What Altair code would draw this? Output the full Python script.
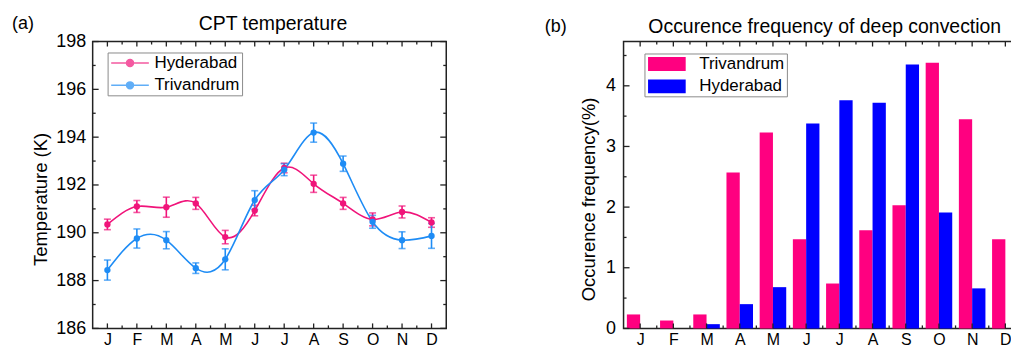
import altair as alt
import pandas as pd

# ---------------- data ----------------
months = ["J", "F", "M", "A", "M", "J", "J", "A", "S", "O", "N", "D"]
month_idx = list(range(1, 13))

hyd_cpt = [190.35, 191.10, 191.07, 191.23, 189.82, 190.93, 192.71, 192.05, 191.23, 190.56, 190.87, 190.43]
hyd_err = [0.22, 0.25, 0.42, 0.25, 0.28, 0.22, 0.20, 0.36, 0.25, 0.27, 0.25, 0.20]
tvm_cpt = [188.44, 189.76, 189.69, 188.52, 188.89, 191.37, 192.64, 194.19, 192.89, 190.46, 189.69, 189.87]
tvm_err = [0.42, 0.40, 0.36, 0.22, 0.44, 0.39, 0.25, 0.40, 0.32, 0.27, 0.35, 0.52]

tvm_freq = [0.23, 0.13, 0.23, 2.57, 3.23, 1.47, 0.74, 1.62, 2.03, 4.38, 3.45, 1.47]
hyd_freq = [0.00, 0.00, 0.07, 0.40, 0.68, 3.38, 3.76, 3.72, 4.35, 1.91, 0.66, 0.00]

temp_major = [186, 188, 190, 192, 194, 196, 198]
temp_minor = [187, 189, 191, 193, 195, 197]
freq_major = [0, 1, 2, 3, 4]
freq_minor = [0.5, 1.5, 2.5, 3.5, 4.5]
month_minor = [1.5, 2.5, 3.5, 4.5, 5.5, 6.5, 7.5, 8.5, 9.5, 10.5, 11.5, 12.5]

series_a = ["Hyderabad", "Trivandrum"]
colors_a = ["#F0147A", "#1E8CF5"]
series_b = ["Trivandrum", "Hyderabad"]
colors_b = ["#FF0080", "#0000FF"]

FONT = "Liberation Sans"
WA, HA = 355, 288
WB, HB = 397, 288

month_expr = "[" + ",".join("'%s'" % m for m in months) + "][round(datum.value)-1]"

# ---------------- helpers ----------------
def tick_rules(values, field, orient, length, xscale, yscale, xaxis, yaxis, W, H):
    df = pd.DataFrame({field: values})
    base = alt.Chart(df).mark_rule(color="#222", strokeWidth=1.3)
    if orient in ("left", "right"):
        x0 = 0 if orient == "left" else W - length
        return base.encode(
            y=alt.Y(f"{field}:Q", scale=yscale, axis=yaxis),
            x=alt.value(x0), x2=alt.value(x0 + length))
    y0 = 0 if orient == "top" else H - length
    return base.encode(
        x=alt.X(f"{field}:Q", scale=xscale, axis=xaxis),
        y=alt.value(y0), y2=alt.value(y0 + length))


def text_layer(txt, x, y, size, align="left"):
    return alt.Chart(pd.DataFrame({"t": [txt]})).mark_text(
        align=align, baseline="alphabetic", fontSize=size, font=FONT, color="black"
    ).encode(text="t:N", x=alt.value(x), y=alt.value(y))

# ---------------- panel (a) ----------------
rows = []
for i, m in enumerate(month_idx):
    rows.append({"m": m, "series": "Hyderabad", "v": hyd_cpt[i], "e": hyd_err[i]})
for i, m in enumerate(month_idx):
    rows.append({"m": m, "series": "Trivandrum", "v": tvm_cpt[i], "e": tvm_err[i]})
df_a = pd.DataFrame(rows)

xs_a = alt.Scale(domain=[0.5, 12.5], nice=False, zero=False)
ys_a = alt.Scale(domain=[186, 198], nice=False, zero=False)

x_axis_a = alt.Axis(values=month_idx, labelExpr=month_expr, ticks=False, domain=False,
                    grid=False, title="", labelFontSize=16, labelPadding=3,
                    labelColor="black", labelFont=FONT)
y_axis_a = alt.Axis(values=temp_major, ticks=False, domain=False, grid=False,
                    title="Temperature (K)", titleFontSize=18.5, titleFontWeight="normal",
                    titleFont=FONT, titleColor="black", titlePadding=5, titleY=158,
                    labelFontSize=18, labelPadding=7, labelColor="black", labelFont=FONT)

leg_a = alt.Legend(orient="none", legendX=15, legendY=11, title=None, direction="vertical",
                   symbolType="M-2.7,0H2.7M-0.5,0A0.5,0.5,0,1,0,0.5,0A0.5,0.5,0,1,0,-0.5,0Z",
                   symbolSize=196, symbolStrokeWidth=1.5, symbolOffset=12, labelOffset=16,
                   labelFontSize=17, labelFont=FONT, labelColor="black",
                   strokeColor="#8a8a8a", fillColor="white", padding=2, rowPadding=4.5)

col_a = alt.Color("series:N", scale=alt.Scale(domain=series_a, range=colors_a), legend=leg_a)

errs = alt.Chart(df_a).mark_errorbar(ticks=True, thickness=1.6, size=7).encode(
    x=alt.X("m:Q", scale=xs_a, axis=x_axis_a),
    y=alt.Y("v:Q", scale=ys_a, axis=y_axis_a),
    yError=alt.YError("e:Q"),
    color=col_a,
)
line = alt.Chart(df_a).mark_line(interpolate="natural", strokeWidth=1.6).encode(
    x=alt.X("m:Q", scale=xs_a, axis=x_axis_a),
    y=alt.Y("v:Q", scale=ys_a, axis=y_axis_a),
    color=col_a,
)
pts = alt.Chart(df_a).mark_point(filled=True, size=40, opacity=1).encode(
    x=alt.X("m:Q", scale=xs_a, axis=x_axis_a),
    y=alt.Y("v:Q", scale=ys_a, axis=y_axis_a),
    color=col_a,
)

ticks_a = [
    tick_rules(temp_major, "v", "left", 6, xs_a, ys_a, x_axis_a, y_axis_a, WA, HA),
    tick_rules(temp_minor, "v", "left", 3, xs_a, ys_a, x_axis_a, y_axis_a, WA, HA),
    tick_rules(temp_major, "v", "right", 6, xs_a, ys_a, x_axis_a, y_axis_a, WA, HA),
    tick_rules(temp_minor, "v", "right", 3, xs_a, ys_a, x_axis_a, y_axis_a, WA, HA),
    tick_rules(month_idx, "m", "bottom", 5, xs_a, ys_a, x_axis_a, y_axis_a, WA, HA),
    tick_rules(month_minor[:-1], "m", "bottom", 3, xs_a, ys_a, x_axis_a, y_axis_a, WA, HA),
    tick_rules(month_idx, "m", "top", 5, xs_a, ys_a, x_axis_a, y_axis_a, WA, HA),
    tick_rules(month_minor[:-1], "m", "top", 3, xs_a, ys_a, x_axis_a, y_axis_a, WA, HA),
]

panel_a = alt.layer(
    errs, line, pts, *ticks_a,
    text_layer("(a)", -81, -13, 18),
    text_layer("CPT temperature", 181, -12, 19.5, align="center"),
).properties(width=WA, height=HA,
             view=alt.ViewBackground(stroke="#222", strokeWidth=1.5))

# ---------------- panel (b) ----------------
rows_b = []
for i, m in enumerate(month_idx):
    rows_b.append({"m": m, "series": "Trivandrum", "f": tvm_freq[i]})
for i, m in enumerate(month_idx):
    rows_b.append({"m": m, "series": "Hyderabad", "f": hyd_freq[i]})
df_b = pd.DataFrame(rows_b)

xs_b = alt.Scale(domain=[0.5, 12.41], nice=False, zero=False)
ys_b = alt.Scale(domain=[0, 4.73], nice=False, zero=False)

x_axis_b = alt.Axis(values=month_idx, labelExpr=month_expr, ticks=False, domain=False,
                    grid=False, title="", labelFontSize=16, labelPadding=3,
                    labelColor="black", labelFont=FONT)
y_axis_b = alt.Axis(values=freq_major, ticks=False, domain=False, grid=False,
                    title="Occurence frequency(%)", titleFontSize=18.5, titleFontWeight="normal",
                    titleFont=FONT, titleColor="black", titlePadding=7, titleY=158,
                    labelFontSize=18, labelPadding=8, labelColor="black", labelFont=FONT)

leg_b = alt.Legend(orient="none", legendX=21, legendY=12, title=None, direction="vertical",
                   symbolType="M-2.7,-1H2.7V1H-2.7Z", symbolSize=196, symbolStrokeWidth=0,
                   symbolOffset=12, labelOffset=24, labelFontSize=17, labelFont=FONT,
                   labelColor="black", strokeColor="#8a8a8a", fillColor="white",
                   padding=2, rowPadding=4.5)

bars = alt.Chart(df_b).transform_calculate(
    x0="datum.series == 'Trivandrum' ? datum.m - 0.4 : datum.m",
    x1="datum.series == 'Trivandrum' ? datum.m : datum.m + 0.4",
).mark_bar().encode(
    x=alt.X("x0:Q", scale=xs_b, axis=x_axis_b),
    x2="x1:Q",
    y=alt.Y("f:Q", scale=ys_b, axis=y_axis_b),
    y2=alt.datum(0),
    color=alt.Color("series:N", scale=alt.Scale(domain=series_b, range=colors_b), legend=leg_b),
)

ticks_b = [
    tick_rules(freq_major, "f", "left", 6, xs_b, ys_b, x_axis_b, y_axis_b, WB, HB),
    tick_rules(freq_minor, "f", "left", 3, xs_b, ys_b, x_axis_b, y_axis_b, WB, HB),
    tick_rules(freq_major, "f", "right", 6, xs_b, ys_b, x_axis_b, y_axis_b, WB, HB),
    tick_rules(freq_minor, "f", "right", 3, xs_b, ys_b, x_axis_b, y_axis_b, WB, HB),
    tick_rules(month_idx, "x0", "bottom", 5, xs_b, ys_b, x_axis_b, y_axis_b, WB, HB),
    tick_rules(month_minor, "x0", "bottom", 3, xs_b, ys_b, x_axis_b, y_axis_b, WB, HB),
    tick_rules(month_idx, "x0", "top", 5, xs_b, ys_b, x_axis_b, y_axis_b, WB, HB),
    tick_rules(month_minor, "x0", "top", 3, xs_b, ys_b, x_axis_b, y_axis_b, WB, HB),
]

panel_b = alt.layer(
    bars, *ticks_b,
    text_layer("(b)", -79, -10, 18),
    text_layer("Occurence frequency of deep convection", 202, -9, 19.5, align="center"),
).properties(width=WB, height=HB,
             view=alt.ViewBackground(stroke="#222", strokeWidth=1.5))

chart = alt.hconcat(panel_a, panel_b, spacing=178, bounds="flush").resolve_scale(
    x="independent", y="independent", color="independent",
).resolve_legend(color="independent").properties(
    padding={"left": 3, "top": 4, "right": -13, "bottom": -2}
).configure(font=FONT, background="white")

chart.save("out.html", embed_options={"renderer": "svg", "actions": False})
